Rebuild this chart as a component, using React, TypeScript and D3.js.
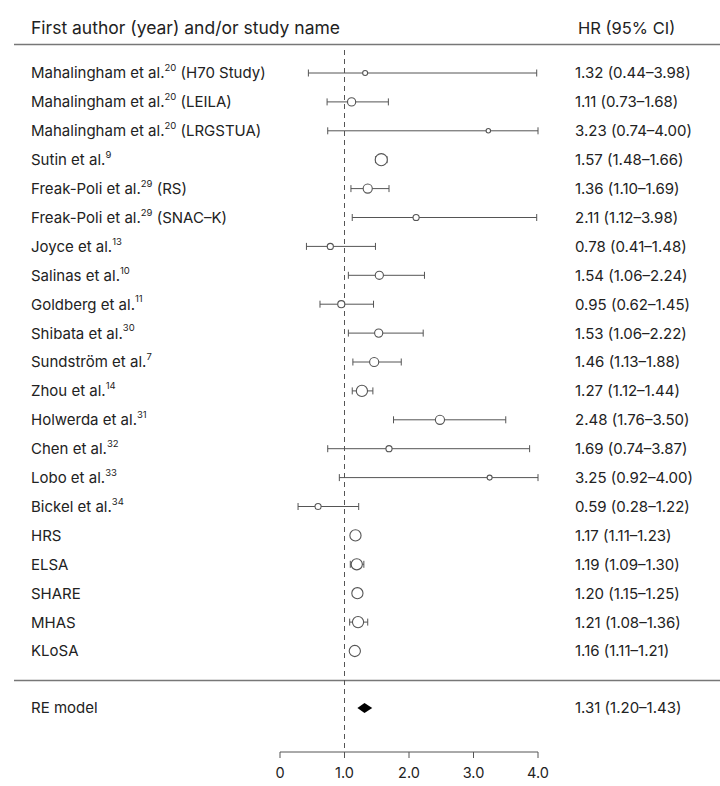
import React from "react";
import * as d3 from "d3";

const studyNames = [
  "Mahalingham et al.", "Mahalingham et al.", "Mahalingham et al.", "Sutin et al.",
  "Freak-Poli et al.", "Freak-Poli et al.", "Joyce et al.", "Salinas et al.",
  "Goldberg et al.", "Shibata et al.", "Sundström et al.", "Zhou et al.",
  "Holwerda et al.", "Chen et al.", "Lobo et al.", "Bickel et al.",
  "HRS", "ELSA", "SHARE", "MHAS", "KLoSA",
];
const refs = ["20", "20", "20", "9", "29", "29", "13", "10", "11", "30", "7", "14", "31", "32", "33", "34", "", "", "", "", ""];
const suffixes = [" (H70 Study)", " (LEILA)", " (LRGSTUA)", "", " (RS)", " (SNAC–K)", "", "", "", "", "", "", "", "", "", "", "", "", "", "", ""];
const hr = [1.32, 1.11, 3.23, 1.57, 1.36, 2.11, 0.78, 1.54, 0.95, 1.53, 1.46, 1.27, 2.48, 1.69, 3.25, 0.59, 1.17, 1.19, 1.20, 1.21, 1.16];
const lower = [0.44, 0.73, 0.74, 1.48, 1.10, 1.12, 0.41, 1.06, 0.62, 1.06, 1.13, 1.12, 1.76, 0.74, 0.92, 0.28, 1.11, 1.09, 1.15, 1.08, 1.11];
const upper = [3.98, 1.68, 4.00, 1.66, 1.69, 3.98, 1.48, 2.24, 1.45, 2.22, 1.88, 1.44, 3.50, 3.87, 4.00, 1.22, 1.23, 1.30, 1.25, 1.36, 1.21];
const weights = [1.2, 3.2, 0.95, 7.0, 4.0, 1.8, 1.8, 3.2, 2.4, 3.2, 4.0, 6.0, 4.0, 1.8, 1.2, 1.8, 6.0, 6.0, 6.0, 6.0, 6.0];

const pooledLabel = "RE model";
const pooled = { hr: 1.31, lo: 1.20, hi: 1.43 };

const xTicks = [0, 1, 2, 3, 4];
const xTickLabels = ["0", "1.0", "2.0", "3.0", "4.0"];

const headerLeft = "First author (year) and/or study name";
const headerRight = "HR (95% CI)";

export default function App() {
  const W = 720, H = 786;
  const x = d3.scaleLinear().domain([0, 4]).range([280, 538]);
  const y = d3.scaleLinear().domain([0, studyNames.length - 1]).range([73, 651]);
  const r = d3.scaleSqrt().domain([0, 6]).range([0, 5.6]);
  const f = d3.format(".2f");
  const font = "Inter, 'Noto Sans', sans-serif";
  const textColor = "#222";
  const lineColor = "#555";
  const capH = 3.5;
  const pooledY = 708;
  const axisY = 752;
  const fs = 15;
  const ciText = (a: number, b: number, c: number) => `${f(a)} (${f(b)}–${f(c)})`;

  return (
    <svg width={W} height={H} style={{ position: "absolute", left: 0, top: 0, background: "#fff" }} fontFamily={font}>
      <text x={31} y={34} fontSize={17.5} fill={textColor}>{headerLeft}</text>
      <text x={578} y={34} fontSize={16.5} fill={textColor}>{headerRight}</text>
      <line x1={14} x2={720} y1={44.5} y2={44.5} stroke="#777" strokeWidth={1.5} />
      <line x1={14} x2={720} y1={680.5} y2={680.5} stroke="#777" strokeWidth={1.5} />

      <line x1={x(1)} x2={x(1)} y1={50} y2={axisY} stroke={lineColor} strokeWidth={1} strokeDasharray="5,4" />

      {studyNames.map((name, i) => {
        const cy = y(i);
        return (
          <g key={i}>
            <text x={31} y={cy} dy="0.36em" fontSize={fs} fill={textColor}>
              {name}
              {refs[i] && <tspan fontSize={9.5} dy="-0.75em">{refs[i]}</tspan>}
              {suffixes[i] && <tspan dy={refs[i] ? "0.47em" : 0}>{suffixes[i]}</tspan>}
            </text>
            <line x1={x(lower[i])} x2={x(upper[i])} y1={cy} y2={cy} stroke={lineColor} strokeWidth={1} />
            <line x1={x(lower[i])} x2={x(lower[i])} y1={cy - capH} y2={cy + capH} stroke={lineColor} strokeWidth={1} />
            <line x1={x(upper[i])} x2={x(upper[i])} y1={cy - capH} y2={cy + capH} stroke={lineColor} strokeWidth={1} />
            <circle cx={x(hr[i])} cy={cy} r={r(weights[i])} fill="#fff" stroke={lineColor} strokeWidth={1.1} />
            <text x={575} y={cy} dy="0.36em" fontSize={fs} fill={textColor}>{ciText(hr[i], lower[i], upper[i])}</text>
          </g>
        );
      })}

      <text x={31} y={pooledY} dy="0.36em" fontSize={fs} fill={textColor}>{pooledLabel}</text>
      <path
        d={`M${x(pooled.lo)},${pooledY} L${x(pooled.hr)},${pooledY - 5} L${x(pooled.hi)},${pooledY} L${x(pooled.hr)},${pooledY + 5} Z`}
        fill="#000"
      />
      <text x={575} y={pooledY} dy="0.36em" fontSize={fs} fill={textColor}>{ciText(pooled.hr, pooled.lo, pooled.hi)}</text>

      <line x1={x(0)} x2={x(4)} y1={axisY} y2={axisY} stroke={lineColor} strokeWidth={1} />
      {xTicks.map((t, i) => (
        <g key={t}>
          <line x1={x(t)} x2={x(t)} y1={axisY} y2={axisY + 6} stroke={lineColor} strokeWidth={1} />
          <text x={x(t)} y={axisY + 26} textAnchor="middle" fontSize={14.5} fill={textColor}>{xTickLabels[i]}</text>
        </g>
      ))}
    </svg>
  );
}
